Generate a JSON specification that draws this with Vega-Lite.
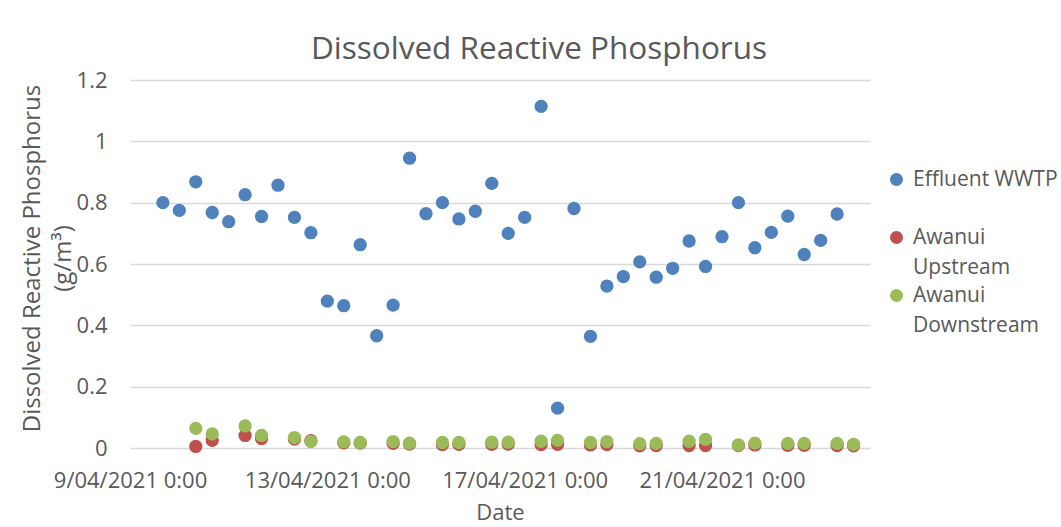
{
  "$schema": "https://vega.github.io/schema/vega-lite/v6.json",
  "autosize": {"type": "none"},
  "padding": {"left": 130, "top": 80, "right": 191, "bottom": 79},
  "width": 740,
  "height": 368,
  "background": "white",
  "title": {"text": "Dissolved Reactive Phosphorus", "fontSize": 31.5, "font": "Open Sans", "fontWeight": "normal", "color": "#595959", "anchor": "middle", "dx": 39, "offset": -21, "baseline": "alphabetic"},
  "data": {"values": [
    {"date": "2021-04-09T16:00:00", "site": "Effluent WWTP", "drp": 0.800},
    {"date": "2021-04-10T00:00:00", "site": "Effluent WWTP", "drp": 0.775},
    {"date": "2021-04-10T08:00:00", "site": "Effluent WWTP", "drp": 0.868},
    {"date": "2021-04-10T16:00:00", "site": "Effluent WWTP", "drp": 0.768},
    {"date": "2021-04-11T00:00:00", "site": "Effluent WWTP", "drp": 0.738},
    {"date": "2021-04-11T08:00:00", "site": "Effluent WWTP", "drp": 0.826},
    {"date": "2021-04-11T16:00:00", "site": "Effluent WWTP", "drp": 0.755},
    {"date": "2021-04-12T00:00:00", "site": "Effluent WWTP", "drp": 0.857},
    {"date": "2021-04-12T08:00:00", "site": "Effluent WWTP", "drp": 0.752},
    {"date": "2021-04-12T16:00:00", "site": "Effluent WWTP", "drp": 0.702},
    {"date": "2021-04-13T00:00:00", "site": "Effluent WWTP", "drp": 0.479},
    {"date": "2021-04-13T08:00:00", "site": "Effluent WWTP", "drp": 0.464},
    {"date": "2021-04-13T16:00:00", "site": "Effluent WWTP", "drp": 0.663},
    {"date": "2021-04-14T00:00:00", "site": "Effluent WWTP", "drp": 0.366},
    {"date": "2021-04-14T08:00:00", "site": "Effluent WWTP", "drp": 0.466},
    {"date": "2021-04-14T16:00:00", "site": "Effluent WWTP", "drp": 0.945},
    {"date": "2021-04-15T00:00:00", "site": "Effluent WWTP", "drp": 0.764},
    {"date": "2021-04-15T08:00:00", "site": "Effluent WWTP", "drp": 0.800},
    {"date": "2021-04-15T16:00:00", "site": "Effluent WWTP", "drp": 0.747},
    {"date": "2021-04-16T00:00:00", "site": "Effluent WWTP", "drp": 0.772},
    {"date": "2021-04-16T08:00:00", "site": "Effluent WWTP", "drp": 0.863},
    {"date": "2021-04-16T16:00:00", "site": "Effluent WWTP", "drp": 0.700},
    {"date": "2021-04-17T00:00:00", "site": "Effluent WWTP", "drp": 0.752},
    {"date": "2021-04-17T08:00:00", "site": "Effluent WWTP", "drp": 1.114},
    {"date": "2021-04-17T16:00:00", "site": "Effluent WWTP", "drp": 0.130},
    {"date": "2021-04-18T00:00:00", "site": "Effluent WWTP", "drp": 0.781},
    {"date": "2021-04-18T08:00:00", "site": "Effluent WWTP", "drp": 0.364},
    {"date": "2021-04-18T16:00:00", "site": "Effluent WWTP", "drp": 0.528},
    {"date": "2021-04-19T00:00:00", "site": "Effluent WWTP", "drp": 0.559},
    {"date": "2021-04-19T08:00:00", "site": "Effluent WWTP", "drp": 0.607},
    {"date": "2021-04-19T16:00:00", "site": "Effluent WWTP", "drp": 0.557},
    {"date": "2021-04-20T00:00:00", "site": "Effluent WWTP", "drp": 0.586},
    {"date": "2021-04-20T08:00:00", "site": "Effluent WWTP", "drp": 0.675},
    {"date": "2021-04-20T16:00:00", "site": "Effluent WWTP", "drp": 0.592},
    {"date": "2021-04-21T00:00:00", "site": "Effluent WWTP", "drp": 0.689},
    {"date": "2021-04-21T08:00:00", "site": "Effluent WWTP", "drp": 0.800},
    {"date": "2021-04-21T16:00:00", "site": "Effluent WWTP", "drp": 0.653},
    {"date": "2021-04-22T00:00:00", "site": "Effluent WWTP", "drp": 0.703},
    {"date": "2021-04-22T08:00:00", "site": "Effluent WWTP", "drp": 0.756},
    {"date": "2021-04-22T16:00:00", "site": "Effluent WWTP", "drp": 0.631},
    {"date": "2021-04-23T00:00:00", "site": "Effluent WWTP", "drp": 0.677},
    {"date": "2021-04-23T08:00:00", "site": "Effluent WWTP", "drp": 0.763},
    {"date": "2021-04-10T08:00:00", "site": "Awanui Upstream", "drp": 0.005},
    {"date": "2021-04-10T16:00:00", "site": "Awanui Upstream", "drp": 0.025},
    {"date": "2021-04-11T08:00:00", "site": "Awanui Upstream", "drp": 0.041},
    {"date": "2021-04-11T16:00:00", "site": "Awanui Upstream", "drp": 0.031},
    {"date": "2021-04-12T08:00:00", "site": "Awanui Upstream", "drp": 0.029},
    {"date": "2021-04-12T16:00:00", "site": "Awanui Upstream", "drp": 0.024},
    {"date": "2021-04-13T08:00:00", "site": "Awanui Upstream", "drp": 0.017},
    {"date": "2021-04-13T16:00:00", "site": "Awanui Upstream", "drp": 0.016},
    {"date": "2021-04-14T08:00:00", "site": "Awanui Upstream", "drp": 0.015},
    {"date": "2021-04-14T16:00:00", "site": "Awanui Upstream", "drp": 0.013},
    {"date": "2021-04-15T08:00:00", "site": "Awanui Upstream", "drp": 0.011},
    {"date": "2021-04-15T16:00:00", "site": "Awanui Upstream", "drp": 0.012},
    {"date": "2021-04-16T08:00:00", "site": "Awanui Upstream", "drp": 0.012},
    {"date": "2021-04-16T16:00:00", "site": "Awanui Upstream", "drp": 0.013},
    {"date": "2021-04-17T08:00:00", "site": "Awanui Upstream", "drp": 0.011},
    {"date": "2021-04-17T16:00:00", "site": "Awanui Upstream", "drp": 0.012},
    {"date": "2021-04-18T08:00:00", "site": "Awanui Upstream", "drp": 0.010},
    {"date": "2021-04-18T16:00:00", "site": "Awanui Upstream", "drp": 0.011},
    {"date": "2021-04-19T08:00:00", "site": "Awanui Upstream", "drp": 0.007},
    {"date": "2021-04-19T16:00:00", "site": "Awanui Upstream", "drp": 0.008},
    {"date": "2021-04-20T08:00:00", "site": "Awanui Upstream", "drp": 0.008},
    {"date": "2021-04-20T16:00:00", "site": "Awanui Upstream", "drp": 0.008},
    {"date": "2021-04-21T08:00:00", "site": "Awanui Upstream", "drp": 0.008},
    {"date": "2021-04-21T16:00:00", "site": "Awanui Upstream", "drp": 0.010},
    {"date": "2021-04-22T08:00:00", "site": "Awanui Upstream", "drp": 0.009},
    {"date": "2021-04-22T16:00:00", "site": "Awanui Upstream", "drp": 0.009},
    {"date": "2021-04-23T08:00:00", "site": "Awanui Upstream", "drp": 0.008},
    {"date": "2021-04-23T16:00:00", "site": "Awanui Upstream", "drp": 0.007},
    {"date": "2021-04-10T08:00:00", "site": "Awanui Downstream", "drp": 0.064},
    {"date": "2021-04-10T16:00:00", "site": "Awanui Downstream", "drp": 0.046},
    {"date": "2021-04-11T08:00:00", "site": "Awanui Downstream", "drp": 0.072},
    {"date": "2021-04-11T16:00:00", "site": "Awanui Downstream", "drp": 0.041},
    {"date": "2021-04-12T08:00:00", "site": "Awanui Downstream", "drp": 0.034},
    {"date": "2021-04-12T16:00:00", "site": "Awanui Downstream", "drp": 0.021},
    {"date": "2021-04-13T08:00:00", "site": "Awanui Downstream", "drp": 0.020},
    {"date": "2021-04-13T16:00:00", "site": "Awanui Downstream", "drp": 0.018},
    {"date": "2021-04-14T08:00:00", "site": "Awanui Downstream", "drp": 0.021},
    {"date": "2021-04-14T16:00:00", "site": "Awanui Downstream", "drp": 0.016},
    {"date": "2021-04-15T08:00:00", "site": "Awanui Downstream", "drp": 0.018},
    {"date": "2021-04-15T16:00:00", "site": "Awanui Downstream", "drp": 0.018},
    {"date": "2021-04-16T08:00:00", "site": "Awanui Downstream", "drp": 0.019},
    {"date": "2021-04-16T16:00:00", "site": "Awanui Downstream", "drp": 0.019},
    {"date": "2021-04-17T08:00:00", "site": "Awanui Downstream", "drp": 0.022},
    {"date": "2021-04-17T16:00:00", "site": "Awanui Downstream", "drp": 0.025},
    {"date": "2021-04-18T08:00:00", "site": "Awanui Downstream", "drp": 0.018},
    {"date": "2021-04-18T16:00:00", "site": "Awanui Downstream", "drp": 0.021},
    {"date": "2021-04-19T08:00:00", "site": "Awanui Downstream", "drp": 0.014},
    {"date": "2021-04-19T16:00:00", "site": "Awanui Downstream", "drp": 0.015},
    {"date": "2021-04-20T08:00:00", "site": "Awanui Downstream", "drp": 0.022},
    {"date": "2021-04-20T16:00:00", "site": "Awanui Downstream", "drp": 0.028},
    {"date": "2021-04-21T08:00:00", "site": "Awanui Downstream", "drp": 0.010},
    {"date": "2021-04-21T16:00:00", "site": "Awanui Downstream", "drp": 0.016},
    {"date": "2021-04-22T08:00:00", "site": "Awanui Downstream", "drp": 0.015},
    {"date": "2021-04-22T16:00:00", "site": "Awanui Downstream", "drp": 0.015},
    {"date": "2021-04-23T08:00:00", "site": "Awanui Downstream", "drp": 0.015},
    {"date": "2021-04-23T16:00:00", "site": "Awanui Downstream", "drp": 0.012}
  ]},
  "mark": {"type": "point", "filled": true, "opacity": 1, "size": 177, "shape": "circle"},
  "encoding": {
    "x": {
      "field": "date", "type": "temporal",
      "scale": {"domain": [{"year": 2021, "month": 4, "date": 9}, {"year": 2021, "month": 4, "date": 24}]},
      "axis": {
        "title": "Date",
        "values": [{"year": 2021, "month": 4, "date": 9}, {"year": 2021, "month": 4, "date": 13}, {"year": 2021, "month": 4, "date": 17}, {"year": 2021, "month": 4, "date": 21}],
        "format": "%-d/%m/%Y %-H:%M",
        "grid": false,
        "domain": false,
        "ticks": false,
        "labelOverlap": false,
        "labelFlush": false,
        "labelBound": false,
        "labelFontSize": 22,
        "labelPadding": 22,
        "labelBaseline": "top",
        "titleFontSize": 22,
        "titlePadding": 11
      }
    },
    "y": {
      "field": "drp", "type": "quantitative",
      "scale": {"domain": [0, 1.2], "nice": false},
      "axis": {
        "title": ["Dissolved Reactive Phosphorus", "(g/m³)"],
        "values": [0, 0.2, 0.4, 0.6, 0.8, 1, 1.2],
        "format": "~g",
        "domain": false,
        "ticks": false,
        "labelFontSize": 22,
        "labelPadding": 23,
        "titleFontSize": 24,
        "titlePadding": 1,
        "titleY": 178,
        "titleLineHeight": 31
      }
    },
    "color": {
      "field": "site", "type": "nominal",
      "scale": {"domain": ["Effluent WWTP", "Awanui Upstream", "Awanui Downstream"], "range": ["#4F81BD", "#C0504D", "#9BBB59"]},
      "legend": {
        "title": null,
        "orient": "none",
        "legendX": 756,
        "legendY": 89,
        "symbolSize": 170,
        "symbolType": "circle",
        "symbolOpacity": 1,
        "labelOffset": 6,
        "labelLimit": 300,
        "rowPadding": 6,
        "labelExpr": "datum.label == 'Effluent WWTP' ? [datum.label, ''] : split(datum.label, ' ')",
        "encode": {"labels": {"update": {"lineHeight": {"value": 30}}}}
      }
    }
  },
  "config": {
    "font": "Open Sans",
    "view": {"stroke": null},
    "axis": {
      "labelFont": "Open Sans", "labelFontSize": 21, "labelColor": "#595959",
      "titleFont": "Open Sans", "titleFontSize": 21, "titleColor": "#595959", "titleFontWeight": "normal",
      "gridColor": "#d9d9d9", "gridWidth": 1.5
    },
    "legend": {"labelFont": "Open Sans", "labelFontSize": 21, "labelColor": "#595959"}
  }
}
